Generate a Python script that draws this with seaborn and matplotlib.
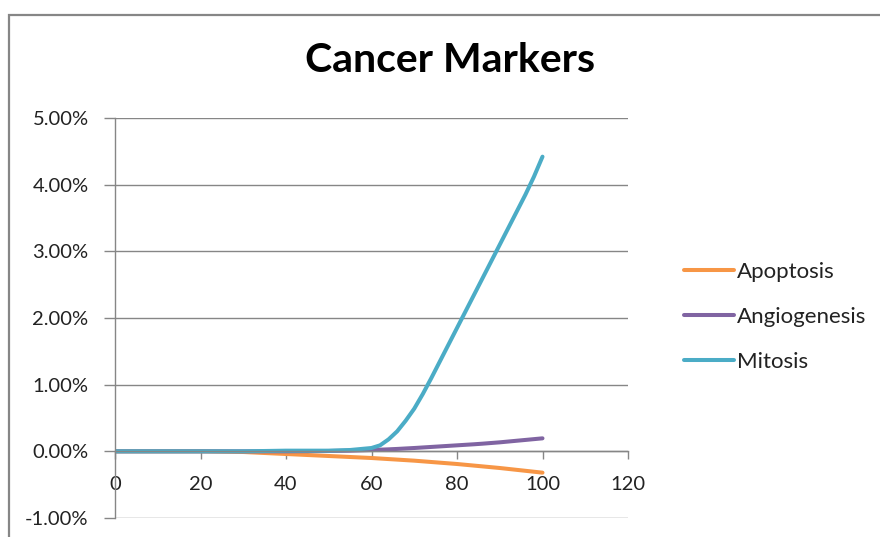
import matplotlib
matplotlib.use("Agg")
import matplotlib.pyplot as plt
from matplotlib.patches import Rectangle
from matplotlib.ticker import FuncFormatter
import pandas as pd
import seaborn as sns

# Marker levels (as fractions) against time step
x_vals = [0, 10, 20, 25, 30, 40, 50, 55, 60, 62, 64, 66, 68, 70, 72, 74, 76, 78,
          80, 82, 84, 86, 88, 90, 92, 94, 96, 98, 100]
apoptosis = [0.0, 0.0, 0.0, -0.00005, -0.0001, -0.0004, -0.0007, -0.00085, -0.0010,
             -0.00108, -0.00116, -0.00124, -0.00132, -0.0014, -0.0015, -0.0016, -0.0017,
             -0.0018, -0.0019, -0.00202, -0.00214, -0.00226, -0.00238, -0.0025, -0.00264,
             -0.00278, -0.00292, -0.00306, -0.0032]
angiogenesis = [0.0, 0.0, 0.0, 0.0, 0.0, 0.0, 0.00005, 0.0001, 0.0002, 0.00025, 0.0003,
                0.00036, 0.00043, 0.0005, 0.00058, 0.00066, 0.00074, 0.00082, 0.0009,
                0.00098, 0.00106, 0.00115, 0.00125, 0.00135, 0.00147, 0.00159, 0.00171,
                0.00183, 0.00195]
mitosis = [0.0, 0.0, 0.0, 0.0, 0.0, 0.0001, 0.0001, 0.0002, 0.0005, 0.0009, 0.0018,
           0.0030, 0.0046, 0.0064, 0.0086, 0.0110, 0.0135, 0.0160, 0.0185, 0.0210,
           0.0235, 0.0260, 0.0285, 0.0310, 0.0335, 0.0360, 0.0385, 0.0412, 0.0442]
series_names = ["Apoptosis", "Angiogenesis", "Mitosis"]
series_colors = ["#F79646", "#8064A2", "#4BACC6"]

x_ticks = [0, 20, 40, 60, 80, 100, 120]
y_ticks = [-0.01, 0.0, 0.01, 0.02, 0.03, 0.04, 0.05]

df = pd.concat([
    pd.DataFrame({"x": x_vals, "value": vals, "series": name})
    for name, vals in zip(series_names, [apoptosis, angiogenesis, mitosis])
], ignore_index=True)

sns.set_theme(style="white")
plt.rcParams["font.family"] = ["Lato", "DejaVu Sans"]

W, H = 880, 537
fig = plt.figure(figsize=(W / 100, H / 100), dpi=100)
fig.patch.set_facecolor("white")

# chart-area border
fig.patches.append(Rectangle((9 / W, -0.1), 1.2, (H - 15) / H + 0.1,
                             transform=fig.transFigure, fill=False,
                             edgecolor="#868686", linewidth=1.6))

ax = fig.add_axes([115 / W, (H - 518) / H, (628 - 115) / W, (518 - 118) / H])
ax.set_facecolor("none")

grid_color = "#868686"
for yv in y_ticks:
    ax.axhline(yv, color=grid_color, linewidth=1.0, zorder=0)

sns.lineplot(data=df, x="x", y="value", hue="series", hue_order=series_names,
             palette=dict(zip(series_names, series_colors)), linewidth=2.9,
             ax=ax, legend=False, estimator=None, sort=False)

ax.set_xlim(0, 120)
ax.set_ylim(-0.01, 0.05)
ax.set_xticks(x_ticks)
ax.set_yticks(y_ticks)
ax.yaxis.set_major_formatter(FuncFormatter(lambda v, p: f"{v * 100:.2f}%"))
ax.set_xlabel("")
ax.set_ylabel("")

for side in ["top", "right"]:
    ax.spines[side].set_visible(False)
ax.spines["bottom"].set_position(("data", 0))
for side in ["left", "bottom"]:
    ax.spines[side].set_color(grid_color)
    ax.spines[side].set_linewidth(1.0)
ax.tick_params(axis="y", direction="out", length=8, width=1.0, color=grid_color,
               pad=11, labelsize=14.5, labelcolor="#222222", left=True)
ax.tick_params(axis="x", direction="out", length=6, width=1.0, color=grid_color,
               pad=12, labelsize=14.5, labelcolor="#222222", bottom=True)

fig.text(450 / W, 1 - 72 / H, "Cancer Markers", ha="center", va="baseline",
         fontsize=29.5, fontweight="bold", color="black")

handles = [plt.Line2D([], [], color=c, linewidth=2.9) for c in series_colors]
fig.legend(handles, series_names, loc="center left",
           bbox_to_anchor=(664 / W, 1 - 317 / H), frameon=False,
           fontsize=16, handlelength=2.25, handletextpad=0.15,
           labelspacing=1.12, labelcolor="#222222")

fig.savefig("out.png", dpi=100, facecolor="white")
